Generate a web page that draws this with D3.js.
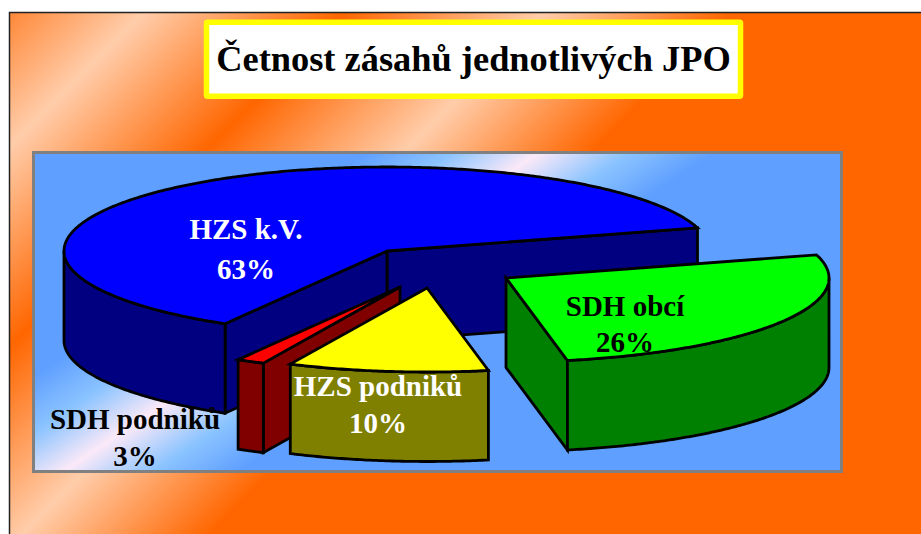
<!DOCTYPE html>
<html lang="en">
<head>
<meta charset="utf-8">
<title>Četnost zásahů jednotlivých JPO</title>
<script src="https://d3js.org/d3.v7.min.js"></script>
<style>
  html, body { margin: 0; padding: 0; background: #fff; overflow: hidden; }
  svg { display: block; }
  text { font-family: "Liberation Serif", serif; font-weight: bold; text-anchor: middle; }
</style>
</head>
<body>
<script>
// data, starts at the right hand edge of the green slice and goes clockwise
const categories = ["SDH obcí", "HZS podniků", "SDH podniků", "HZS k.V."];
// slice shares as drawn in the picture (the printed labels are rounded differently)
const shares = [26.4, 10, 1.4, 62.2];
const percentLabels = ["26%", "10%", "3%", "63%"];
const title = "Četnost zásahů jednotlivých JPO";

// layout, same order as categories
const sliceCenters = [[506, 278], [427, 288], [400, 287], [387, 251]];
const topColors = ["#00ff00", "#ffff00", "#ff0000", "#0000ff"];
const sideColors = ["#008000", "#808000", "#800000", "#000080"];
const cutFaces = [["endAngle"], [], ["startAngle"], ["endAngle", "startAngle"]]; // the ones facing the viewer
const labelPos = [[625, 316], [378, 396], [135, 429], [246, 239]];
const labelGap = [36, 36.5, 37, 40];
const labelColors = ["#000", "#fff", "#000", "#fff"];
const drawOrder = [3, 0, 2, 1];

const width = 921, height = 534;
const rx = 323, ry = 84, depth = 89.5;

const svg = d3.select("body").append("svg")
    .attr("width", width)
    .attr("height", height);

const defs = svg.append("defs");

function gradient(id, p1, p2, stops) {
    const g = defs.append("linearGradient")
        .attr("id", id)
        .attr("gradientUnits", "userSpaceOnUse")
        .attr("x1", p1[0]).attr("y1", p1[1])
        .attr("x2", p2[0]).attr("y2", p2[1]);
    stops.forEach(s => g.append("stop").attr("offset", s[0]).attr("stop-color", s[1]));
}

const orange = "#ff6600", peach = "#ffcdaa", sky = "#5f9fff";
gradient("bgGrad", [-22, -22], [372, 372], [
    [0, orange], [0.254, peach], [0.508, orange], [0.762, peach], [1, orange]
]);
gradient("panelGrad", [184, 275], [292, 436], [
    [0, sky], [0.25, "#8cc4ff"], [0.495, "#fbe9f8"], [0.75, "#8cc4ff"], [1, sky]
]);

// page background, its right and bottom edges are off the picture
svg.append("rect")
    .attr("x", 9.5).attr("y", 12.5)
    .attr("width", width + 20).attr("height", height + 20)
    .attr("fill", "url(#bgGrad)")
    .attr("stroke", "#222")
    .attr("stroke-width", 1.5);

// title box
svg.append("rect")
    .attr("x", 206.5).attr("y", 22.2)
    .attr("width", 534).attr("height", 74)
    .attr("rx", 1)
    .attr("fill", "#fff")
    .attr("stroke", "#ffff00")
    .attr("stroke-width", 5.5);

svg.append("text")
    .attr("x", 473.5).attr("y", 71)
    .attr("font-size", 36.4)
    .attr("fill", "#000")
    .text(title);

// plot panel
svg.append("rect")
    .attr("x", 33.5).attr("y", 152.5)
    .attr("width", 808).attr("height", 319)
    .attr("fill", "url(#panelGrad)")
    .attr("stroke", "#808080")
    .attr("stroke-width", 3);

// pie layout, angle 0 is up and goes clockwise like d3.arc
const startAngle = 74 * Math.PI / 180;
const pie = d3.pie()
    .value(d => d)
    .sort(null)
    .startAngle(startAngle)
    .endAngle(startAngle + 2 * Math.PI);
const arcs = pie(shares);

// flatten the circle into the tilted ellipse
const xScale = d3.scaleLinear().domain([-1, 1]).range([-rx, rx]);
const yScale = d3.scaleLinear().domain([-1, 1]).range([-ry, ry]);
const line = d3.line();

function point(center, angle, drop) {
    return [
        center[0] + xScale(Math.sin(angle)),
        center[1] + yScale(-Math.cos(angle)) + (drop || 0)
    ];
}

function arcPoints(center, a0, a1, drop) {
    const n = Math.max(2, Math.ceil(Math.abs(a1 - a0) / 0.01));
    return d3.range(n + 1).map(i => point(center, a0 + (a1 - a0) * i / n, drop));
}

function shape(parent, pts, fill) {
    parent.append("path")
        .attr("d", line(pts) + "Z")
        .attr("fill", fill)
        .attr("stroke", "#000")
        .attr("stroke-width", 2.8)
        .attr("stroke-linejoin", "miter");
}

// visible part of the outer wall, the front half is from 90 to 270 degrees
const frontStart = Math.PI / 2, frontEnd = 3 * Math.PI / 2;

drawOrder.forEach(i => {
    const c = sliceCenters[i], a = arcs[i];
    const g = svg.append("g").attr("class", "slice");
    const low = [c[0], c[1] + depth];

    cutFaces[i].forEach(key => {
        shape(g, [c, point(c, a[key]), point(c, a[key], depth), low], sideColors[i]);
    });

    // outer wall
    [0, 2 * Math.PI].forEach(k => {
        const w0 = Math.max(a.startAngle, frontStart + k);
        const w1 = Math.min(a.endAngle, frontEnd + k);
        if (w1 > w0) {
            shape(g, arcPoints(c, w0, w1).concat(arcPoints(c, w1, w0, depth)), sideColors[i]);
        }
    });

    // top face
    shape(g, [c].concat(arcPoints(c, a.startAngle, a.endAngle)), topColors[i]);
});

// labels
const labels = svg.append("g")
    .attr("font-size", 29);

categories.forEach((name, i) => {
    labels.append("text")
        .attr("x", labelPos[i][0]).attr("y", labelPos[i][1])
        .attr("fill", labelColors[i])
        .text(name);
    labels.append("text")
        .attr("x", labelPos[i][0]).attr("y", labelPos[i][1] + labelGap[i])
        .attr("fill", labelColors[i])
        .text(percentLabels[i]);
});
</script>
</body>
</html>
